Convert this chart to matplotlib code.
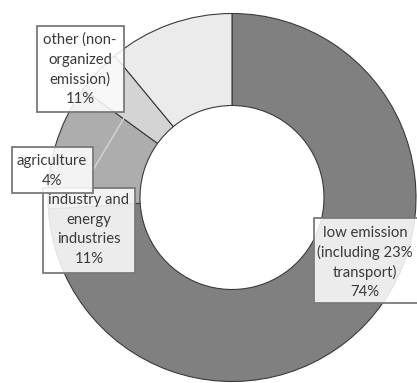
import matplotlib
matplotlib.use("Agg")
import matplotlib.pyplot as plt
from matplotlib.patches import Rectangle

# data, clockwise from 12 o'clock
sectors = ["low emission\n(including 23%\ntransport)", "industry and\nenergy\nindustries",
           "agriculture", "other (non-\norganized\nemission)"]
shares = [74, 11, 4, 11]
colors = ["#808080", "#adadad", "#d4d4d4", "#ebebeb"]

W, H = 417, 383
CX, CY = 232, 197.5      # donut centre, image pixels
R_OUT = 184

# label boxes in image pixels: (left, top, right, bottom, text centre x, first line y)
boxes = [
    (314, 218, 419, 303, 365, 233),
    (43, 188, 135, 273, 89, 200),
    (12, 147, 93, 193, 52, 161),
    (37, 26, 124, 112, 80, 40),
]
LINE_STEP = 19.7

fig = plt.figure(figsize=(W / 100, H / 100), dpi=100)
ax = fig.add_axes([0, 0, 1, 1])

ax.pie(shares, colors=colors, startangle=90, counterclock=False,
       radius=R_OUT, center=(CX, H - CY), frame=True,
       wedgeprops=dict(width=R_OUT * 0.5, edgecolor="#3a3a3a", linewidth=0.8))

ax.set_xlim(0, W)
ax.set_ylim(0, H)
ax.set_aspect("equal")
ax.axis("off")

# leader line for the agriculture label
ax.plot([93, 133], [H - 170, H - 103], color="#d4d4d4", lw=1.0, zorder=3)

text_kw = dict(ha="center", va="center", color="#3a3a3a", fontsize=10.7,
               family=["Lato", "DejaVu Sans"])

draw_order = [1, 2, 0, 3]  # agriculture box sits over the industry box
for z, i in enumerate(draw_order):
    left, top, right, bottom, tx, ty = boxes[i]
    ax.add_patch(Rectangle((left, H - bottom), right - left, bottom - top,
                           facecolor=(1, 1, 1, 0.86), edgecolor="#7a7a7a",
                           linewidth=1.3, zorder=4 + z * 2))
    lines = sectors[i].split("\n") + [f"{shares[i]}%"]
    for k, line in enumerate(lines):
        ax.text(tx, H - (ty + k * LINE_STEP), line, zorder=5 + z * 2, **text_kw)

fig.savefig("out.png", dpi=100)
